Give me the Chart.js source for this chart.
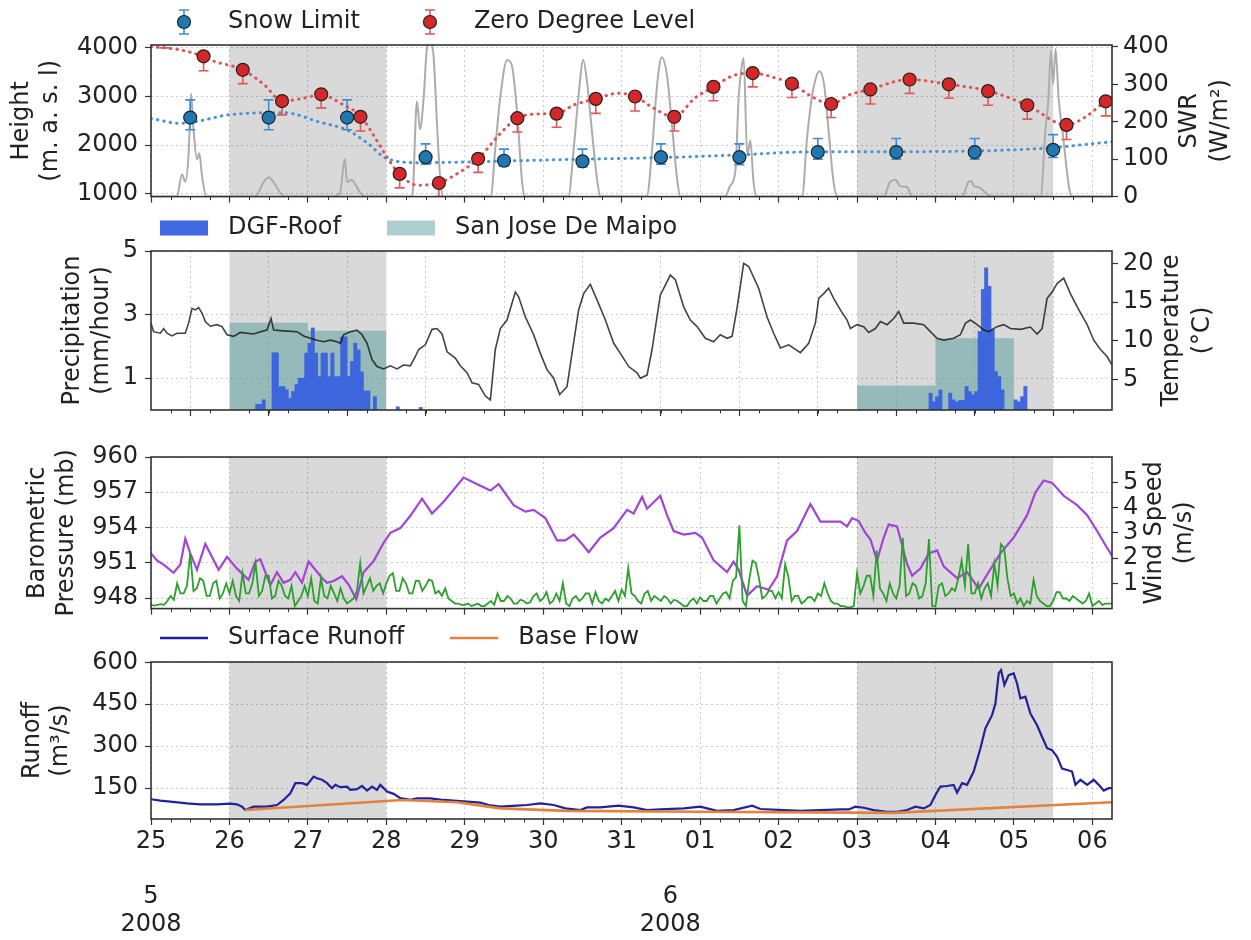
<!DOCTYPE html>
<html>
<head>
<meta charset="utf-8">
<script src="https://cdn.jsdelivr.net/npm/chart.js@4.4.0/dist/chart.umd.min.js"></script>
<style>
  body { margin: 0; background: #fff; width: 1251px; height: 940px; position: relative; overflow: hidden; }
  canvas { position: absolute; left: 0; }
</style>
</head>
<body>
<canvas id="c1" width="1251" height="218" style="top:0px"></canvas>
<canvas id="c2" width="1251" height="230" style="top:205px"></canvas>
<canvas id="c3" width="1251" height="200" style="top:430px"></canvas>
<canvas id="c4" width="1251" height="325" style="top:615px"></canvas>
<script>
// time axis: days since 2008-05-25 00:00
const xMin = 0, xMax = 12.25;
const dayTicks = [0, 1, 2, 3, 4, 5, 6, 7, 8, 9, 10, 11, 12];
const dayLabels = ['25', '26', '27', '28', '29', '30', '31', '01', '02', '03', '04', '05', '06'];
const monthTicks = [0, 6.62];
const monthLabels = [['5', '2008'], ['6', '2008']];
const shadeSpans = [[1, 3], [9, 11.5]];

// panel 1 - snow limit / zero degree level (m a.s.l.) and SWR
const snowTimes = [0.5, 1.5, 2.5, 3.5, 4.5, 5.5, 6.5, 7.5, 8.5, 9.5, 10.5, 11.5];
const snowVals = [2567, 2567, 2567, 1754, 1680, 1669, 1754, 1754, 1859, 1859, 1859, 1905];
const snowHigh = [2930, 2930, 2930, 2026, 1918, 1918, 2026, 2026, 2137, 2137, 2137, 2216];
const snowLow = [2315, 2315, 2315, 1609, 1575, 1555, 1609, 1600, 1714, 1714, 1714, 1748];
const zeroTimes = [0.17, 0.67, 1.17, 1.67, 2.17, 2.67, 3.17, 3.67, 4.17, 4.67, 5.17, 5.67, 6.17,
  6.67, 7.17, 7.67, 8.17, 8.67, 9.17, 9.67, 10.17, 10.67, 11.17, 11.67, 12.17];
const zeroVals = [4280, 3823, 3546, 2905, 3044, 2581, 1411, 1224, 1720, 2554, 2647, 2950, 2998,
  2581, 3196, 3480, 3262, 2845, 3143, 3347, 3248, 3109, 2819, 2415, 2899];
const zeroLow = [3995, 3526, 3262, 2621, 2766, 2290, 1125, 946, 1442, 2270, 2369, 2653, 2700,
  2290, 2911, 3196, 2978, 2567, 2845, 3063, 2964, 2820, 2534, 2117, 2601];
const snowTrendT = [0, 0.38, 1.01, 1.69, 2.16, 2.5, 2.76, 3.0, 3.43, 4.0, 5.37, 6.5, 7.5, 8.3, 9.5, 10.5, 11.0, 11.5, 12.0, 12.25];
const snowTrendV = [2547, 2448, 2627, 2667, 2468, 2310, 2040, 1730, 1640, 1655, 1708, 1745, 1800, 1860, 1865, 1880, 1905, 1950, 2030, 2071];
const zeroTrendT = [0, 0.37, 0.67, 0.8, 1.17, 1.45, 1.67, 1.9, 2.17, 2.45, 2.67, 2.85, 3.0, 3.17, 3.4, 3.67,
  3.93, 4.17, 4.45, 4.67, 4.95, 5.17, 5.4, 5.67, 5.95, 6.17, 6.4, 6.67, 6.93, 7.17, 7.42, 7.67, 7.93,
  8.17, 8.42, 8.67, 8.9, 9.16, 9.66, 10.17, 10.68, 11.17, 11.67, 11.9, 12.17, 12.25];
const zeroTrendV = [4020, 3956, 3820, 3724, 3546, 3230, 2905, 2950, 3030, 2830, 2600, 2170, 1774, 1400, 1180, 1230,
  1442, 1720, 2236, 2554, 2640, 2650, 2831, 2950, 3063, 3000, 2766, 2581, 2964, 3196, 3427, 3480, 3393,
  3262, 3000, 2845, 3030, 3143, 3347, 3248, 3109, 2819, 2415, 2567, 2899, 2964];
const swrT = [0, 0.33, 0.395, 0.437, 0.48, 0.51, 0.543, 0.586, 0.616, 0.65, 0.705,
  1.33, 1.436, 1.5, 1.56, 1.65, 1.71,
  2.33, 2.41, 2.47, 2.5, 2.56, 2.6, 2.67, 2.73,
  3.33, 3.39, 3.43, 3.475, 3.52, 3.56, 3.6, 3.65, 3.69, 3.73,
  4.33, 4.39, 4.45, 4.54, 4.6, 4.67, 4.73, 4.77,
  5.32, 5.39, 5.45, 5.51, 5.56, 5.62, 5.69, 5.73,
  6.32, 6.39, 6.45, 6.51, 6.58, 6.64, 6.71, 6.75,
  7.32, 7.38, 7.45, 7.49, 7.53, 7.555, 7.6, 7.64, 7.68, 7.72,
  8.3, 8.36, 8.42, 8.48, 8.52, 8.58, 8.64, 8.7, 8.75,
  9.34, 9.42, 9.49, 9.55, 9.64, 9.7,
  10.34, 10.42, 10.46, 10.49, 10.55, 10.64, 10.72,
  11.34, 11.4, 11.44, 11.47, 11.5, 11.53, 11.57, 11.63, 11.7, 11.74,
  12.25];
const swrV = [0, 0, 60, 40, 116, 275, 176, 100, 116, 56, 0,
  0, 39, 52, 39, 10, 0,
  0, 10, 100, 39, 45, 34, 10, 0,
  0, 254, 180, 262, 400, 410, 380, 176, 40, 0,
  0, 132, 262, 365, 350, 217, 40, 0,
  0, 132, 270, 365, 303, 176, 40, 0,
  0, 132, 295, 372, 320, 193, 40, 0,
  0, 28, 70, 262, 348, 370, 110, 150, 40, 0,
  0, 150, 260, 320, 335, 300, 170, 40, 0,
  0, 39, 45, 28, 25, 0,
  0, 39, 42, 28, 25, 10, 0,
  0, 176, 262, 390, 300, 395, 262, 155, 28, 0,
  0];

// panel 2 - precipitation (mm/hour) and temperature
const dgfHours = [32, 33, 34, 37, 38, 39, 40, 41, 42, 43, 44, 45, 46, 47, 48, 49, 50, 51, 52, 53, 54, 55, 56, 57,
  58, 59, 60, 61, 62, 63, 64, 65, 66, 68, 75, 82,
  238, 239, 240, 241, 244, 245, 246, 247, 248, 249, 250, 251, 252, 253, 254, 255, 256, 257, 258, 259, 260,
  264, 265, 266, 267];
const dgfVals = [0.18, 0.18, 0.32, 1.8, 1.8, 0.74, 0.74, 0.64, 0.37, 0.58, 0.8, 1.0, 1.0, 1.79, 2.1, 2.58, 1.79,
  1.05, 1.79, 1.79, 1.05, 1.79, 1.05, 1.05, 2.3, 2.3, 1.05, 1.53, 2.1, 1.89, 1.2, 0.6, 0.6, 0.42, 0.1, 0.08,
  0.53, 0.26, 0.42, 0.63, 0.53, 0.32, 0.26, 0.3, 0.3, 0.74, 0.58, 0.48, 0.58, 2.47, 3.79, 4.47, 3.89, 2.53,
  1.21, 1.05, 0.63, 0.32, 0.26, 0.42, 0.74];
const sanJoseDays = [1, 2, 9, 10];
const sanJoseVals = [2.74, 2.49, 0.77, 2.26];
const tempT = [0, 0.033, 0.119, 0.161, 0.204, 0.268, 0.331, 0.437, 0.479, 0.523, 0.565, 0.607, 0.65, 0.692,
  0.756, 0.841, 0.905, 0.969, 1.053, 1.138, 1.308, 1.393, 1.479, 1.53, 1.563, 1.69, 1.861, 1.945, 2.031,
  2.116, 2.2, 2.286, 2.371, 2.413, 2.455, 2.541, 2.626, 2.69, 2.754, 2.817, 2.881, 2.965, 3.051, 3.136,
  3.22, 3.306, 3.37, 3.412, 3.497, 3.582, 3.646, 3.71, 3.774, 3.879, 3.943, 4.029, 4.092, 4.176, 4.262,
  4.326, 4.389, 4.453, 4.538, 4.644, 4.686, 4.772, 4.878, 4.963, 5.048, 5.133, 5.209, 5.303, 5.367,
  5.451, 5.515, 5.6, 5.686, 5.792, 5.898, 5.983, 6.089, 6.196, 6.238, 6.323, 6.387, 6.492, 6.62, 6.684,
  6.79, 6.875, 6.961, 7.066, 7.172, 7.257, 7.343, 7.407, 7.47, 7.555, 7.619, 7.746, 7.853, 7.937, 8.023,
  8.129, 8.278, 8.384, 8.469, 8.511, 8.575, 8.638, 8.702, 8.787, 8.873, 8.915, 9.0, 9.085, 9.149, 9.234,
  9.298, 9.383, 9.467, 9.531, 9.595, 9.722, 9.85, 9.935, 10.02, 10.104, 10.232, 10.317, 10.383, 10.446,
  10.531, 10.616, 10.678, 10.785, 10.87, 10.955, 11.082, 11.21, 11.295, 11.359, 11.423, 11.487, 11.55,
  11.634, 11.72, 11.806, 11.933, 12.017, 12.103, 12.188, 12.25];
const tempV = [12.3, 11.2, 11.0, 11.6, 11.0, 10.65, 11.0, 11.0, 12.3, 14.2, 14.0, 14.3, 13.6, 12.5,
  11.9, 12.1, 11.85, 10.8, 10.6, 11.1, 10.9, 11.2, 11.4, 12.9, 11.4, 11.3, 11.2, 10.65, 10.35,
  10.1, 9.9, 10.1, 9.9, 9.7, 10.8, 11.2, 11.4, 10.8, 9.7, 7.6, 6.7, 6.4, 6.8, 6.4,
  6.9, 6.8, 8.0, 8.9, 9.5, 11.5, 11.6, 10.9, 8.6, 7.8, 6.8, 5.9, 4.6, 4.4, 2.9,
  2.4, 8.9, 11.6, 12.7, 16.3, 15.7, 13.1, 10.8, 8.4, 6.3, 5.2, 3.1, 4.1, 8.4,
  14.0, 16.1, 17.3, 15.3, 12.7, 9.7, 8.4, 6.7, 5.9, 5.2, 5.6, 8.9, 15.9, 18.5, 17.9,
  14.4, 12.7, 11.85, 10.35, 9.9, 10.8, 10.35, 10.6, 14.2, 20.0, 19.6, 16.8, 13.1, 11.0, 9.1,
  9.5, 8.5, 9.7, 12.3, 15.5, 16.1, 16.8, 15.5, 14.0, 12.7, 11.6, 12.1, 11.85, 11.1, 11.6,
  12.5, 12.1, 12.9, 13.8, 12.3, 12.3, 12.1, 11.2, 10.35, 10.1, 10.35, 10.8, 12.3, 12.7,
  12.1, 11.4, 11.2, 11.85, 12.1, 11.6, 11.5, 11.8, 10.9, 11.6, 15.5, 16.3, 17.4,
  18.1, 16.1, 14.4, 12.1, 10.1, 8.9, 8.0, 6.9];

// panel 3 - barometric pressure (mb) and hourly wind speed (m/s)
const presT = [0, 0.076, 0.161, 0.288, 0.374, 0.437, 0.501, 0.586, 0.692, 0.778, 0.862, 0.969, 1.096, 1.244,
  1.33, 1.393, 1.457, 1.521, 1.606, 1.69, 1.776, 1.84, 1.925, 2.009, 2.095, 2.18, 2.244, 2.328, 2.435,
  2.519, 2.617, 2.71, 2.838, 2.965, 3.051, 3.178, 3.306, 3.455, 3.582, 3.73, 3.985, 4.198, 4.326, 4.431,
  4.623, 4.772, 4.878, 5.027, 5.176, 5.282, 5.388, 5.495, 5.579, 5.728, 5.897, 6.068, 6.152, 6.26, 6.323,
  6.492, 6.578, 6.662, 6.79, 6.939, 7.024, 7.172, 7.343, 7.427, 7.491, 7.598, 7.726, 7.873, 7.981, 8.108,
  8.236, 8.405, 8.533, 8.66, 8.788, 8.873, 8.937, 9.021, 9.106, 9.17, 9.255, 9.34, 9.403, 9.51, 9.638,
  9.702, 9.808, 9.914, 10.02, 10.104, 10.275, 10.403, 10.551, 10.658, 10.827, 10.997, 11.168, 11.274,
  11.379, 11.487, 11.634, 11.805, 11.933, 12.06, 12.171, 12.25];
const presV = [951.8, 951.2, 950.85, 950.15, 950.85, 953.05, 951.8, 950.4, 952.6, 951.5, 950.4, 951.5, 950.5, 949.55,
  951.1, 951.3, 950.2, 949.1, 950.2, 949.3, 949.55, 950.2, 949.3, 951.1, 950.4, 949.7, 949.3, 949.45, 949.85,
  949.15, 947.9, 950.2, 951.15, 952.7, 953.55, 953.95, 955.0, 956.45, 955.2, 956.2, 958.25, 957.55, 957.15, 957.7,
  955.9, 955.35, 955.5, 954.8, 952.9, 952.9, 953.4, 952.6, 951.9, 953.15, 953.95, 955.5, 955.2, 956.6, 955.6,
  956.7, 955.05, 953.7, 953.4, 953.55, 953.15, 951.2, 950.2, 951.1, 950.4, 948.2, 949.0, 948.7, 949.85, 952.9,
  953.7, 956.0, 954.5, 954.5, 954.5, 954.1, 954.8, 954.55, 953.55, 953.0, 951.2, 953.15, 954.25, 954.1, 950.9,
  949.9, 950.5, 951.8, 952.05, 950.7, 949.7, 950.2, 948.8, 950.0, 951.8, 953.15, 955.05, 957.0,
  958.0, 957.8, 956.7, 955.9, 955.05, 953.7, 952.45, 951.6];
const windStepDays = 1 / 24;
const windV = [
  0.15, 0.12, 0.15, 0.18, 0.15, 0.3, 0.5, 0.35, 1.0, 0.6, 0.6, 0.9, 2.2, 0.7, 0.8, 1.2, 1.1, 0.5, 0.5, 1.0, 1.1, 0.4, 0.6, 1.0,
  0.6, 1.1, 0.5, 0.3, 1.4, 0.6, 0.6, 1.0, 1.8, 0.5, 0.7, 1.3, 1.3, 0.4, 0.5, 1.1, 0.9, 0.5, 0.4, 0.9, 0.1, 0.3, 0.5, 0.9,
  0.5, 1.2, 0.3, 0.2, 1.2, 0.5, 0.4, 0.9, 0.6, 0.3, 0.8, 0.4, 0.2, 0.3, 0.4, 0.7, 1.8, 0.6, 0.9, 1.2, 0.7, 0.9, 1.0, 0.6,
  1.0, 1.3, 1.4, 0.7, 0.7, 1.2, 1.0, 0.6, 0.6, 1.1, 1.1, 0.7, 0.9, 1.15, 1.1, 0.6, 0.7, 0.5, 0.8, 0.4, 0.3, 0.2, 0.2, 0.15,
  0.15, 0.2, 0.1, 0.15, 0.2, 0.1, 0.1, 0.2, 0.3, 0.15, 0.6, 0.3, 0.3, 0.5, 0.4, 0.2, 0.2, 0.35, 0.3, 0.2, 0.25, 0.5, 0.6, 0.3,
  0.4, 0.65, 0.2, 0.3, 0.6, 0.3, 1.0, 0.2, 0.1, 0.4, 0.5, 0.3, 0.4, 0.6, 0.6, 0.2, 0.65, 0.3, 0.2, 0.4, 0.3, 0.5, 0.7, 0.3,
  0.75, 0.5, 1.6, 0.6, 0.5, 0.3, 0.2, 0.6, 0.7, 0.3, 0.5, 0.4, 0.3, 0.5, 0.4, 0.2, 0.35, 0.3, 0.2, 0.1, 0.1, 0.3, 0.4, 0.2,
  0.45, 0.3, 0.3, 0.5, 0.5, 0.2, 0.4, 0.6, 0.65, 0.4, 1.1, 1.25, 3.3, 0.3, 0.1, 1.14, 1.9, 1.8, 1.2, 0.4, 0.5, 0.7, 0.7, 0.4,
  0.65, 0.4, 1.75, 1.25, 0.3, 0.5, 0.5, 0.2, 0.3, 0.45, 0.45, 0.3, 0.6, 0.5, 1.0, 0.6, 0.3, 0.2, 0.2, 0.1, 0.1, 0.05, 0.05, 0.1,
  1.4, 0.6, 0.9, 1.3, 1.3, 0.5, 2.3, 0.8, 0.6, 0.3, 1.0, 0.6, 0.4, 0.9, 2.8, 0.5, 0.6, 1.0, 0.9, 0.4, 0.5, 1.0, 2.75, 0.1,
  0.1, 0.9, 1.0, 0.5, 0.6, 0.8, 0.7, 1.2, 1.9, 0.9, 2.55, 0.6, 0.6, 1.0, 0.4, 0.8, 1.0, 0.5, 1.78, 0.9, 2.55, 2.4, 1.2, 0.5,
  0.6, 0.2, 0.4, 0.1, 0.3, 0.2, 1.14, 0.5, 0.3, 0.2, 0.1, 0.1, 0.3, 0.65, 0.65, 0.4, 0.4, 0.3, 0.5, 0.4, 0.3, 0.2, 0.3, 0.6,
  0.1, 0.2, 0.3, 0.15, 0.2, 0.2, 0.2];

// panel 4 - runoff (m3/s)
const runoffT = [0, 0.119, 0.246, 0.459, 0.628, 0.841, 1.011, 1.096, 1.16, 1.202, 1.308, 1.479, 1.606, 1.69,
  1.776, 1.84, 1.925, 1.989, 2.073, 2.116, 2.18, 2.244, 2.307, 2.35, 2.413, 2.499, 2.541, 2.626, 2.69,
  2.754, 2.817, 2.881, 2.923, 3.009, 3.093, 3.178, 3.306, 3.391, 3.561, 3.73, 4.029, 4.198, 4.304, 4.453,
  4.666, 4.793, 4.963, 5.133, 5.282, 5.473, 5.558, 5.728, 5.961, 6.152, 6.323, 6.492, 6.79, 7.003, 7.088,
  7.216, 7.427, 7.662, 7.768, 8.065, 8.278, 8.533, 8.788, 8.894, 8.979, 9.085, 9.212, 9.383, 9.51, 9.638,
  9.744, 9.85, 9.935, 9.999, 10.063, 10.148, 10.232, 10.275, 10.339, 10.403, 10.487, 10.573, 10.636,
  10.721, 10.764, 10.806, 10.836, 10.878, 10.933, 10.997, 11.04, 11.082, 11.146, 11.21, 11.295, 11.359,
  11.423, 11.487, 11.55, 11.614, 11.678, 11.741, 11.784, 11.848, 11.933, 12.017, 12.081, 12.145, 12.208, 12.25];
const runoffV = [110.6, 105.6, 102, 96, 92.5, 92.5, 94.6, 92.5, 84, 72, 84, 84, 90, 108,
  132, 168, 168, 162, 191.6, 185.7, 180, 168, 150, 162, 153.8, 156, 144, 146.5, 158.3,
  141.5, 156, 144, 162, 138, 129.8, 114.3, 108.3, 114, 114, 108, 102, 98.5, 90, 84,
  87.7, 90, 96, 90, 78, 72, 81.4, 81.4, 87.7, 81.4, 72, 74.3, 78, 84, 78,
  69.4, 72, 87.7, 75.8, 72, 69.4, 72, 74.3, 74.3, 84, 80.3, 72, 65.8, 65.8, 72,
  84, 78, 90, 126, 156, 158, 162, 134, 168, 162, 209.6, 293, 364,
  411, 453, 560, 572, 518.6, 554, 560, 524.3, 471, 477, 417, 375, 333,
  293, 286, 262, 220, 215, 209.6, 162, 180, 162, 180, 162, 141.5, 150, 150];
const baseT = [1.2, 3.2, 3.9, 4.45, 5.3, 7.0, 9.47, 12.25];
const baseV = [72, 108, 100, 78, 69, 66, 62, 100];

// ---- helpers ----
Chart.defaults.font.family = '"DejaVu Sans", sans-serif';
Chart.defaults.font.size = 24;
Chart.defaults.color = '#222';
Chart.defaults.animation = false;
Chart.defaults.events = [];
Chart.defaults.plugins.tooltip.enabled = false;

const GRID = 'rgba(0,0,0,0.2)';
const INK = '#333';
const pts = (ts, vs) => ts.map((t, i) => ({ x: t, y: vs[i] }));

function xAxis(showLabels, h) {
  return {
    type: 'linear', min: xMin, max: xMax, offset: false,
    afterBuildTicks: s => { s.ticks = dayTicks.map(v => ({ value: v })); },
    afterFit: s => { s.height = h; },
    ticks: { display: showLabels, autoSkip: false, maxRotation: 0, padding: 2,
      callback: v => dayLabels[dayTicks.indexOf(v)] },
    grid: { color: GRID, tickLength: 6, tickColor: INK, tickWidth: 1.2 },
    border: { display: false, dash: [2, 3] }
  };
}
function yLeft(min, max, ticks, title, titlePad) {
  return {
    type: 'linear', position: 'left', min, max,
    afterBuildTicks: s => { s.ticks = ticks.map(v => ({ value: v })); },
    afterFit: s => { s.width = 151; },
    ticks: { padding: 7, callback: v => String(v) },
    grid: { color: GRID, tickLength: 6, tickColor: INK, tickWidth: 1.2 },
    border: { display: false, dash: [2, 3] },
    title: { display: true, text: title, padding: { top: titlePad, bottom: 0 } }
  };
}
function yRight(min, max, ticks) {
  return {
    type: 'linear', position: 'right', min, max,
    afterBuildTicks: s => { s.ticks = ticks.map(v => ({ value: v })); },
    afterFit: s => { s.width = 139; },
    ticks: { padding: 5, callback: v => String(v) },
    grid: { drawOnChartArea: false, tickLength: 6, tickColor: INK, tickWidth: 1.2 },
    border: { display: false }
  };
}

// legend symbols
function errSymbol(fill, err) {
  const c = document.createElement('canvas'); c.width = 56; c.height = 28;
  const g = c.getContext('2d');
  g.strokeStyle = err; g.lineWidth = 1.6;
  g.beginPath(); g.moveTo(24, 2); g.lineTo(24, 26);
  g.moveTo(19, 2); g.lineTo(29, 2); g.moveTo(19, 26); g.lineTo(29, 26); g.stroke();
  g.beginPath(); g.arc(24, 14, 6.5, 0, Math.PI * 2);
  g.fillStyle = fill; g.fill(); g.strokeStyle = '#222'; g.lineWidth = 1.2; g.stroke();
  return c;
}
function rectSymbol(color) {
  const c = document.createElement('canvas'); c.width = 56; c.height = 16;
  const g = c.getContext('2d'); g.fillStyle = color; g.fillRect(0, 0.5, 48, 15);
  return c;
}
function lineSymbol(color) {
  const c = document.createElement('canvas'); c.width = 56; c.height = 6;
  const g = c.getContext('2d'); g.strokeStyle = color; g.lineWidth = 2.5;
  g.beginPath(); g.moveTo(0, 3); g.lineTo(48, 3); g.stroke();
  return c;
}
function legendCfg(items) {
  return {
    display: true, position: 'top', align: 'start',
    labels: {
      usePointStyle: true, pointStyleWidth: 56, padding: 46,
      generateLabels: () => items.map(([text, img]) => ({
        text, pointStyle: img, fontColor: '#222', hidden: false, lineWidth: 0
      }))
    }
  };
}

// shading, frame, minor ticks, error bars, right titles, legend placement
const panelDeco = {
  id: 'panelDeco',
  beforeLayout(chart) {
    const lg = chart.legend;
    if (lg && !lg.__noSpace) {
      const fit = lg.fit.bind(lg);
      lg.fit = function () { fit(); this.height = 0; };
      lg.__noSpace = true;
    }
  },
  beforeDraw(chart, args, opts) {
    const { ctx, chartArea: a } = chart;
    const x = chart.scales.x;
    ctx.save();
    ctx.fillStyle = 'rgba(128,128,128,0.3)';
    shadeSpans.forEach(([s, e]) => {
      const x0 = Math.max(a.left, x.getPixelForValue(s));
      const x1 = Math.min(a.right, x.getPixelForValue(e));
      ctx.fillRect(x0, a.top, x1 - x0, a.bottom - a.top);
    });
    ctx.restore();
    const lg = chart.legend;
    if (lg && opts.legendAt) {
      const pad = 46;
      lg.left = opts.legendAt[0] - pad;
      lg.right = chart.width;
      lg.top = opts.legendAt[1] - pad - 12;
      lg.bottom = lg.top + 200;
    }
  },
  beforeDatasetDraw(chart, args) {
    const ds = chart.data.datasets[args.index];
    if (!ds.errLow) return;
    const { ctx, chartArea: a } = chart;
    const xs = chart.scales.x, ys = chart.scales[ds.yAxisID || 'y'];
    ctx.save();
    ctx.beginPath(); ctx.rect(a.left, a.top, a.right - a.left, a.bottom - a.top); ctx.clip();
    ctx.strokeStyle = ds.errColor; ctx.lineWidth = 1.6;
    ds.data.forEach((p, i) => {
      const px = xs.getPixelForValue(p.x);
      const lo = ys.getPixelForValue(ds.errLow[i]);
      const hi = ys.getPixelForValue(ds.errHigh[i]);
      ctx.beginPath();
      ctx.moveTo(px, lo); ctx.lineTo(px, hi);
      ctx.moveTo(px - 5, lo); ctx.lineTo(px + 5, lo);
      if (ds.errHigh[i] !== p.y) { ctx.moveTo(px - 5, hi); ctx.lineTo(px + 5, hi); }
      ctx.stroke();
    });
    ctx.restore();
  },
  afterDraw(chart, args, opts) {
    const { ctx, chartArea: a } = chart;
    const x = chart.scales.x;
    ctx.save();
    // minor ticks every 6 hours
    ctx.strokeStyle = INK; ctx.lineWidth = 1;
    for (let v = xMin + 0.25; v < xMax; v += 0.25) {
      if (Math.abs(v - Math.round(v)) < 1e-6) continue;
      const px = Math.round(x.getPixelForValue(v)) + 0.5;
      ctx.beginPath(); ctx.moveTo(px, a.bottom); ctx.lineTo(px, a.bottom + 3.5); ctx.stroke();
    }
    // frame
    ctx.strokeStyle = INK; ctx.lineWidth = 1.6;
    ctx.strokeRect(a.left, a.top, a.right - a.left, a.bottom - a.top);
    // right axis title (reads bottom to top, like the left one)
    if (opts.rightTitle) {
      ctx.fillStyle = '#222';
      ctx.font = '24px "DejaVu Sans", sans-serif';
      ctx.textAlign = 'center'; ctx.textBaseline = 'middle';
      const yc = (a.top + a.bottom) / 2;
      opts.rightTitle.forEach(([text, xc]) => {
        ctx.save(); ctx.translate(xc, yc); ctx.rotate(-Math.PI / 2);
        ctx.fillText(text, 0, 0); ctx.restore();
      });
    }
    ctx.restore();
  }
};

// ---- panel 1 ----
new Chart(document.getElementById('c1'), {
  type: 'line',
  data: {
    datasets: [
      { label: 'SWR', data: pts(swrT, swrV), yAxisID: 'yR', borderColor: '#acacac', borderWidth: 2,
        pointRadius: 0, cubicInterpolationMode: 'monotone', order: 5, clip: 0 },
      { label: 'snow trend', data: pts(snowTrendT, snowTrendV), borderColor: '#4b93d1', borderWidth: 3,
        borderDash: [0.5, 6], borderCapStyle: 'round', pointRadius: 0, cubicInterpolationMode: 'monotone', order: 4, clip: 0 },
      { label: 'zero trend', data: pts(zeroTrendT, zeroTrendV), borderColor: '#e25353', borderWidth: 3,
        borderDash: [0.5, 6], borderCapStyle: 'round', pointRadius: 0, cubicInterpolationMode: 'monotone', order: 3, clip: 0 },
      { label: 'Snow Limit', data: pts(snowTimes, snowVals), showLine: false, pointRadius: 6.5,
        pointBackgroundColor: '#1f77b4', pointBorderColor: '#222', pointBorderWidth: 1.2,
        errLow: snowLow, errHigh: snowHigh, errColor: '#3d8ed0', order: 2, clip: 0 },
      { label: 'Zero Degree Level', data: pts(zeroTimes, zeroVals), showLine: false, pointRadius: 6.5,
        pointBackgroundColor: '#d62728', pointBorderColor: '#222', pointBorderWidth: 1.2,
        errLow: zeroLow, errHigh: zeroVals, errColor: '#e05858', order: 1, clip: 0 }
    ]
  },
  options: {
    responsive: false,
    layout: { padding: { top: 45, left: 0, right: 0, bottom: 0 } },
    scales: {
      x: xAxis(false, 16),
      y: yLeft(945, 4055, [1000, 2000, 3000, 4000], ['Height', '(m. a. s. l)'], 7.6),
      yR: yRight(0, 405, [0, 100, 200, 300, 400])
    },
    plugins: {
      legend: legendCfg([['Snow Limit', errSymbol('#1f77b4', '#3d8ed0')],
                         ['Zero Degree Level', errSymbol('#d62728', '#e05858')]]),
      panelDeco: { legendAt: [160, 22], rightTitle: [['SWR', 1190], ['(W/m²)', 1221]] }
    }
  },
  plugins: [panelDeco]
});

// ---- panel 2 ----
// daily totals drawn as steps: each value holds until the next day boundary
const sanJosePts = [];
sanJoseDays.forEach((d, i) => {
  sanJosePts.push({ x: d, y: sanJoseVals[i] });
  if (sanJoseDays[i + 1] !== d + 1) {
    sanJosePts.push({ x: d + 1, y: 0 });
    sanJosePts.push({ x: d + 1.5, y: null });
  }
});
new Chart(document.getElementById('c2'), {
  type: 'line',
  data: {
    datasets: [
      { label: 'Temperature', data: pts(tempT, tempV), yAxisID: 'yR', borderColor: 'rgba(20,20,20,0.8)',
        borderWidth: 1.6, pointRadius: 0, order: 0, clip: 0 },
      { type: 'bar', label: 'DGF-Roof', data: dgfHours.map((h, i) => ({ x: (h + 0.5) / 24, y: dgfVals[i] })),
        backgroundColor: 'rgba(60,100,222,0.97)', borderWidth: 0, barPercentage: 1, categoryPercentage: 1, order: 1 },
      { label: 'San Jose De Maipo', data: sanJosePts, stepped: 'before', fill: 'origin', spanGaps: false,
        borderWidth: 0, borderColor: 'rgba(0,0,0,0)', backgroundColor: 'rgba(95,158,160,0.55)', pointRadius: 0, order: 2 }
    ]
  },
  options: {
    responsive: false,
    layout: { padding: { top: 46, left: 0, right: 0, bottom: 9 } },
    scales: {
      x: xAxis(false, 16),
      y: yLeft(0, 5, [1, 3, 5], ['Precipitation', '(mm/hour)'], 58.6),
      yR: yRight(1.1, 21.6, [5, 10, 15, 20])
    },
    plugins: {
      legend: legendCfg([['DGF-Roof', rectSymbol('rgb(65,105,225)')],
                         ['San Jose De Maipo', rectSymbol('rgba(95,158,160,0.5)')]]),
      panelDeco: { legendAt: [160, 23], rightTitle: [['Temperature', 1172], ['(°C)', 1203]] }
    }
  },
  plugins: [panelDeco]
});

// ---- panel 3 ----
new Chart(document.getElementById('c3'), {
  type: 'line',
  data: {
    datasets: [
      { label: 'Pressure', data: pts(presT, presV), borderColor: '#a244d6', borderWidth: 2.2,
        pointRadius: 0, order: 1, clip: 0 },
      { label: 'Wind', data: windV.map((v, i) => ({ x: i * windStepDays, y: v })), yAxisID: 'yR',
        borderColor: '#2ca02c', borderWidth: 1.8, pointRadius: 0, order: 0, clip: 0 }
    ]
  },
  options: {
    responsive: false,
    layout: { padding: { top: 27, left: 0, right: 0, bottom: 1 } },
    scales: {
      x: xAxis(false, 16),
      y: yLeft(947.1, 960, [948, 951, 954, 957, 960], ['Barometric', 'Pressure (mb)'], 23.6),
      yR: yRight(0, 6, [1, 2, 3, 4, 5])
    },
    plugins: {
      legend: { display: false },
      panelDeco: { rightTitle: [['Wind Speed', 1155], ['(m/s)', 1185]] }
    }
  },
  plugins: [panelDeco]
});

// ---- panel 4 ----
const monthAxis = {
  type: 'linear', position: 'bottom', min: xMin, max: xMax, weight: 1,
  afterBuildTicks: s => { s.ticks = monthTicks.map(v => ({ value: v })); },
  afterFit: s => { s.height = 71; },
  ticks: { autoSkip: false, maxRotation: 0, padding: 13, callback: v => monthLabels[monthTicks.indexOf(v)] },
  grid: { display: false, drawTicks: false },
  border: { display: false }
};
const x4 = xAxis(true, 50);
x4.weight = 0;
new Chart(document.getElementById('c4'), {
  type: 'line',
  data: {
    datasets: [
      { label: 'Surface Runoff', data: pts(runoffT, runoffV), borderColor: '#22229c', borderWidth: 2.2,
        pointRadius: 0, order: 1, clip: 0 },
      { label: 'Base Flow', data: pts(baseT, baseV), borderColor: '#e3823a', borderWidth: 2.6,
        pointRadius: 0, order: 0, clip: 0 }
    ]
  },
  options: {
    responsive: false,
    layout: { padding: { top: 47, left: 0, right: 139, bottom: 0 } },
    scales: {
      x: x4,
      x2: monthAxis,
      y: yLeft(40, 601, [150, 300, 450, 600], ['Runoff', '(m³/s)'], 18)
    },
    plugins: {
      legend: legendCfg([['Surface Runoff', lineSymbol('#22229c')], ['Base Flow', lineSymbol('#e3823a')]]),
      panelDeco: { legendAt: [160, 23] }
    }
  },
  plugins: [panelDeco]
});
</script>
</body>
</html>
